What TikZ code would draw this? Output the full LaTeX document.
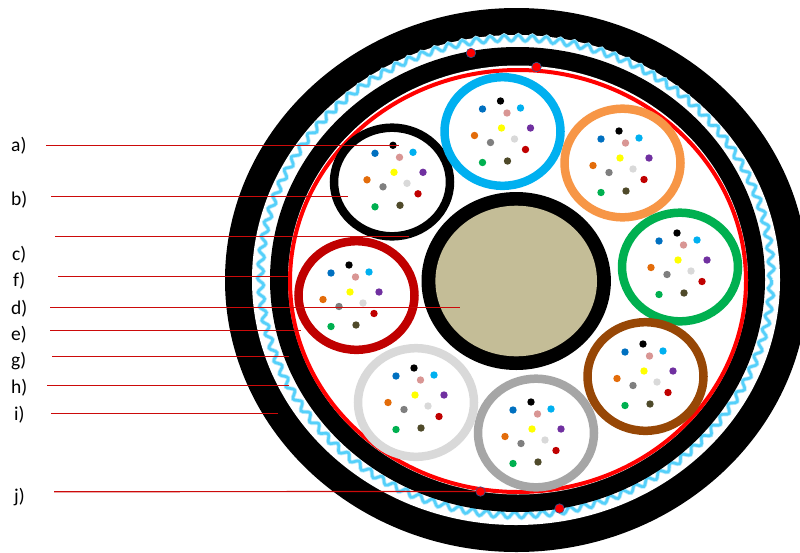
\documentclass[tikz,border=0pt]{standalone}
\usepackage{fontspec}
\setmainfont{Carlito}
\usetikzlibrary{decorations.pathmorphing}
\definecolor{cDarkRed}{HTML}{C00000}
\definecolor{cLeader}{HTML}{CC0A0A}
\definecolor{cBlue}{HTML}{0070C0}
\definecolor{cCyan}{HTML}{00B0F0}
\definecolor{cPink}{HTML}{D99694}
\definecolor{cYellow}{HTML}{FFFF00}
\definecolor{cPurple}{HTML}{7030A0}
\definecolor{cOrangeDot}{HTML}{E36C0A}
\definecolor{cOrangeRing}{HTML}{F79646}
\definecolor{cGrey}{HTML}{7F7F7F}
\definecolor{cLight}{HTML}{D9D9D9}
\definecolor{cMid}{HTML}{A6A6A6}
\definecolor{cGreen}{HTML}{00B050}
\definecolor{cOlive}{HTML}{4F4A2A}
\definecolor{cBrown}{HTML}{974706}
\definecolor{cCore}{HTML}{C4BD97}
\definecolor{cWave}{HTML}{55D0FA}
\definecolor{cWavePale}{HTML}{B5EAFC}
\definecolor{cDotEdge}{HTML}{2F528F}
\tikzset{
  leader/.style={draw=cLeader,line width=1.2pt},
  tag/.style={font=\fontsize{19.5}{21}\selectfont,anchor=west,inner sep=0pt,text=black},
  unitring/.style={line width=8.5pt},
  fibre/.style={circle,inner sep=0pt,minimum size=7.4pt},
  marker/.style={circle,fill=red,draw=cDotEdge,line width=0.6pt,inner sep=0pt,minimum size=9.5pt},
  wavy/.style={decorate,decoration={snake,segment length=14pt,amplitude=3pt}}
}
\newcommand{\fibreunit}[5]{%
  % ring centre (#1,#2), ring colour #3, black fibre at (#4,#5)
  \draw[unitring,#3] (#1,#2) ellipse [x radius=58pt,y radius=54.3pt];
  \begin{scope}[shift={(#4,#5)}]
    \node[fibre,fill=black] at (0,0) {};
    \node[fibre,fill=cBlue] at (-18,8) {};
    \node[fibre,fill=cPink] at (6.5,12) {};
    \node[fibre,fill=cCyan] at (20,7) {};
    \node[fibre,fill=cYellow] at (1,27) {};
    \node[fibre,fill=cPurple] at (30,27) {};
    \node[fibre,fill=cOrangeDot] at (-26,34.5) {};
    \node[fibre,fill=cGrey] at (-10,41.5) {};
    \node[fibre,fill=cLight] at (14,38) {};
    \node[fibre,fill=cDarkRed] at (25,48.5) {};
    \node[fibre,fill=cGreen] at (-18,61.5) {};
    \node[fibre,fill=cOlive] at (7,60) {};
  \end{scope}
}
\begin{document}
\begin{tikzpicture}[x=1pt,y=-1pt]
\clip[use as bounding box] (0,0) rectangle (800,552);
\fill[white] (0,0) rectangle (800,552);
% sheath layers
\fill[black] (516.5,280) ellipse [x radius=291.5pt,y radius=272pt];
\fill[white] (516,280) ellipse [x radius=264pt,y radius=245pt];
\draw[cWavePale,line width=4.2pt,wavy] (516,280) ellipse [x radius=255.5pt,y radius=238.5pt];
\draw[cWave,line width=2.6pt,wavy] (516,280) ellipse [x radius=255.5pt,y radius=238.5pt];
\fill[black] (517.5,279.5) ellipse [x radius=247.5pt,y radius=232.5pt];
\fill[white] (518,280) ellipse [x radius=230pt,y radius=214.5pt];
\draw[red,line width=4pt] (518,281) ellipse [x radius=228pt,y radius=211pt];
% central member
\fill[black] (516.2,281) ellipse [x radius=94.7pt,y radius=89pt];
\fill[cCore] (516.2,281) ellipse [x radius=80.8pt,y radius=75.3pt];
% fibre units
\fibreunit{392}{182}{black}{393}{145.3}
\fibreunit{502.5}{131.5}{cCyan}{500.5}{101}
\fibreunit{622.5}{163}{cOrangeRing}{619}{131}
\fibreunit{680}{267}{cGreen}{677}{233}
\fibreunit{645.5}{376.5}{cBrown}{643}{344}
\fibreunit{536}{433}{cMid}{531}{402}
\fibreunit{416}{402.5}{cLight}{414}{368}
\fibreunit{356.5}{295.5}{cDarkRed}{349}{265}
% labels
\node[tag] (la) at (11,146) {a)};
\node[tag] (lb) at (11,199.5) {b)};
\node[tag] (lc) at (12,254.5) {c)};
\node[tag] (lf) at (13,281) {f)};
\node[tag] (ld) at (11,308.5) {d)};
\node[tag] (le) at (11,334.5) {e)};
\node[tag] (lg) at (11,361.5) {g)};
\node[tag] (lh) at (11,387.5) {h)};
\node[tag] (li) at (14,414.5) {i)};
\node[tag] (lj) at (14,497.5) {j)};
% leader ends
\coordinate (a0) at (46,145.8);  \coordinate (a1) at (399,145.8);
\coordinate (b0) at (51,196.3);  \coordinate (b1) at (348,196.3);
\coordinate (c0) at (55,236.8);  \coordinate (c1) at (409,236.8);
\coordinate (f0) at (58,276.7);  \coordinate (f1) at (288,276.7);
\coordinate (d0) at (50,307.5);  \coordinate (d1) at (460,307.5);
\coordinate (e0) at (50,330.7);  \coordinate (e1) at (301,330.7);
\coordinate (g0) at (52,356.3);  \coordinate (g1) at (289,356.3);
\coordinate (h0) at (47,385.5);  \coordinate (h1) at (289,385.5);
\coordinate (i0) at (51,413.7);  \coordinate (i1) at (278,413.7);
\coordinate (j0) at (54,491.7);
\draw[leader] (a0) -- (a1);
\draw[leader] (b0) -- (b1);
\draw[leader] (c0) -- (c1);
\draw[leader] (f0) -- (f1);
\draw[leader] (d0) -- (d1);
\draw[leader] (e0) -- (e1);
\draw[leader] (g0) -- (g1);
\draw[leader] (h0) -- (h1);
\draw[leader] (i0) -- (i1);
% markers
\node[marker] (m1) at (471,53) {};
\node[marker] (m2) at (536.5,67) {};
\node[marker] (m3) at (480.5,491.5) {};
\node[marker] (m4) at (559.5,508.5) {};
\draw[leader] (j0) -- (m3);
\end{tikzpicture}
\end{document}
